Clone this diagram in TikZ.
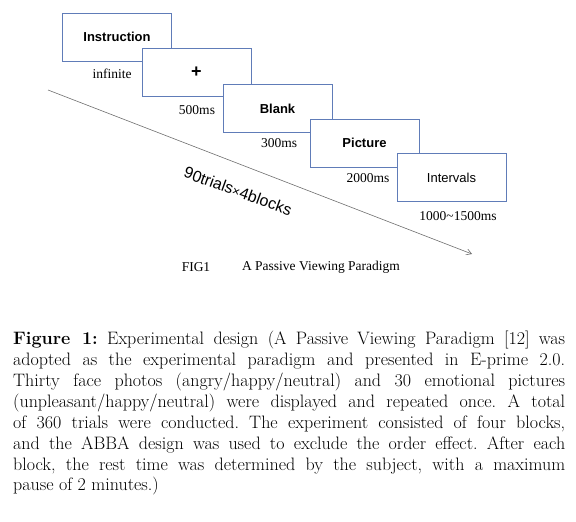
\documentclass[tikz,border=0pt]{standalone}
\usepackage{fontspec}
\setmainfont{Latin Modern Roman}
\newfontfamily\boxfont{Liberation Sans}
\newfontfamily\timesfont{Liberation Serif}
\usetikzlibrary{arrows.meta}
\definecolor{boxblue}{RGB}{96,124,184}
\definecolor{linegray}{RGB}{110,110,110}
\tikzset{
  stim/.style={draw=boxblue, line width=0.8pt, fill=white, minimum width=109pt, minimum height=48pt, inner sep=0pt, font=\boxfont\fontsize{13}{15}\selectfont},
  dur/.style={inner sep=0pt, font=\timesfont\fontsize{13.5}{15}\selectfont},
}
\begin{document}
\frenchspacing
\begin{tikzpicture}[x=1pt,y=-1pt]
\useasboundingbox (0,0) rectangle (576,522);
% timeline
\coordinate (ls) at (48,90);
\coordinate (le) at (472,254);
\draw[linegray, line width=0.6pt, -{Straight Barb[length=5pt,width=6pt]}] (ls) -- (le);
\node[inner sep=0pt, rotate=-20, font=\boxfont\fontsize{16}{18}\selectfont] (trials) at (238,191) {90trials{\fontsize{13}{13}\selectfont ×}4blocks};
% stimulus boxes
\node[stim] (ins) at (117,37) {\bfseries Instruction};
\node[stim] (plus) at (196.5,72.5) {\bfseries\fontsize{18}{20}\selectfont +};
\node[stim] (blank) at (277.5,108.5) {\bfseries Blank};
\node[stim] (pic) at (364.5,143) {\bfseries Picture};
\node[stim] (int) at (451.5,177.5) {Intervals};
% durations
\node[dur] (d1) at (112,74) {infinite};
\node[dur] (d2) at (197,110) {500ms};
\node[dur] (d3) at (279,143) {300ms};
\node[dur] (d4) at (368,178) {2000ms};
\node[dur] (d5) at (458,216) {1000\char"7E 1500ms};
% figure title
\node[dur] (fig) at (196,267) {FIG1};
\node[dur] (figt) at (321,267) {A Passive Viewing Paradigm};
% caption paragraph
\node[anchor=north west, inner sep=0pt, text width=552pt, align=justify, font=\fontsize{18}{20.9}\selectfont] (cap) at (13,331) {%
\textbf{Figure 1:} Experimental design (A Passive Viewing Paradigm [12] was\linebreak
adopted as the experimental paradigm and presented in E-prime 2.0.\linebreak
Thirty face photos (angry/happy/neutral) and 30 emotional pictures\linebreak
(unpleasant/happy/neutral) were displayed and repeated once. A total\linebreak
of 360 trials were conducted. The experiment consisted of four blocks,\linebreak
and the ABBA design was used to exclude the order effect. After each\linebreak
block, the rest time was determined by the subject, with a maximum\linebreak
pause of 2 minutes.)};
\end{tikzpicture}
\end{document}
